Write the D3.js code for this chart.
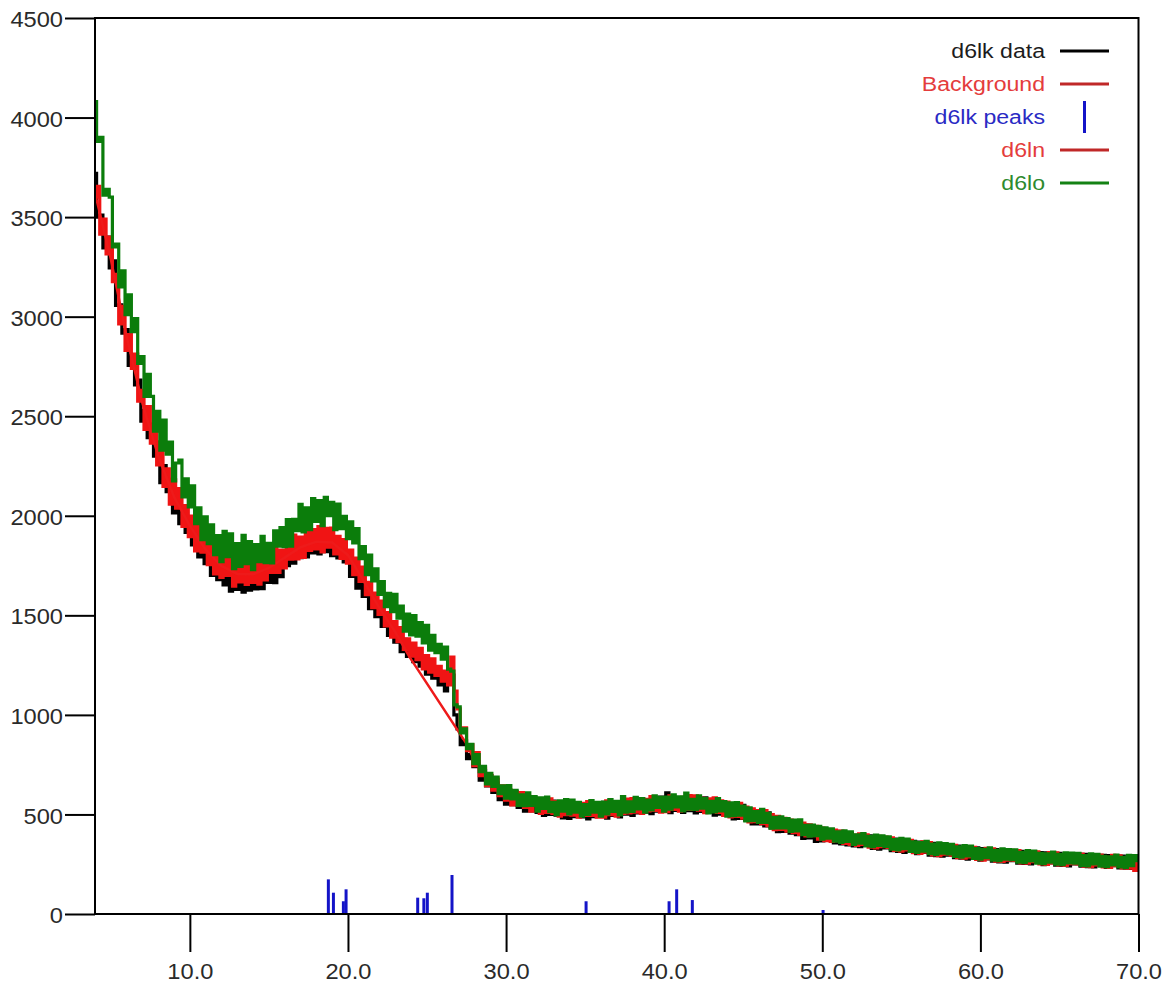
<!DOCTYPE html>
<html>
<head>
<meta charset="utf-8">
<script src="https://cdn.jsdelivr.net/npm/d3@7"></script>
<style>
  html, body { margin: 0; padding: 0; background: #fff; }
  svg { display: block; }
  text { font-family: Arial, "Liberation Sans", sans-serif; }
</style>
</head>
<body>
<svg id="chart" width="1176" height="984"></svg>
<script>
// Scan grid (degrees 2-theta)
const angleStart = 4.0;
const angleStep = 0.2;

// d6lk data (counts), one value per scan step
const d6lkData = [
  3720, 3500, 3510, 3345, 3400, 3245, 3280, 3057, 3059, 2917,
  2935, 2755, 2805, 2657, 2681, 2475, 2529, 2393, 2460, 2300,
  2320, 2166, 2252, 2121, 2183, 2015, 2093, 1961, 2042, 1916,
  1990, 1854, 1928, 1794, 1872, 1760, 1850, 1700, 1803, 1679,
  1775, 1653, 1761, 1622, 1726, 1630, 1728, 1616, 1735, 1626,
  1738, 1633, 1738, 1634, 1760, 1666, 1785, 1664, 1784, 1694,
  1824, 1750, 1836, 1762, 1866, 1790, 1872, 1794, 1896, 1814,
  1892, 1808, 1904, 1820, 1891, 1800, 1886, 1789, 1853, 1768,
  1808, 1695, 1762, 1637, 1711, 1595, 1659, 1533, 1607, 1493,
  1558, 1445, 1502, 1399, 1467, 1365, 1416, 1317, 1379, 1294,
  1348, 1267, 1326, 1245, 1290, 1205, 1270, 1185, 1230, 1150,
  1210, 1120, 1160, 1200, 1000, 930, 850, 870, 780, 800,
  740, 766, 672, 722, 643, 695, 611, 657, 574, 633,
  552, 606, 549, 613, 536, 590, 516, 572, 518, 574,
  510, 567, 495, 552, 500, 567, 496, 544, 483, 551,
  480, 550, 489, 559, 488, 538, 478, 549, 489, 550,
  490, 561, 482, 544, 495, 556, 488, 560, 502, 573,
  495, 567, 508, 580, 511, 573, 504, 575, 516, 587,
  518, 608, 509, 579, 520, 580, 510, 579, 519, 588,
  508, 576, 515, 583, 512, 570, 497, 564, 502, 559,
  496, 552, 478, 544, 480, 546, 471, 527, 452, 518,
  453, 508, 443, 508, 433, 488, 414, 479, 415, 470,
  406, 462, 398, 454, 380, 446, 382, 438, 364, 431,
  367, 425, 372, 420, 357, 415, 352, 400, 347, 405,
  342, 390, 338, 396, 344, 392, 330, 388, 326, 374,
  332, 380, 318, 376, 314, 362, 310, 368, 317, 365,
  303, 361, 310, 358, 296, 355, 293, 341, 290, 348,
  296, 344, 283, 341, 280, 328, 276, 335, 283, 332,
  270, 329, 277, 326, 265, 324, 262, 311, 260, 319,
  268, 317, 256, 315, 254, 303, 252, 311, 260, 309,
  248, 307, 257, 306, 245, 304, 244, 293, 242, 302,
  251, 300, 240, 299, 238, 288, 237, 296, 246, 295,
  234, 293, 243, 292, 232, 291, 230, 280, 229, 289,
  262
];

// d6ln (counts)
const d6ln = [
  3600, 3655, 3415, 3490, 3315, 3400, 3176, 3212, 2964, 3052,
  2830, 2910, 2740, 2812, 2576, 2630, 2434, 2548, 2365, 2455,
  2255, 2371, 2147, 2236, 2058, 2180, 2038, 2136, 1947, 2051,
  1895, 1999, 1823, 1959, 1817, 1925, 1755, 1865, 1708, 1834,
  1690, 1800, 1700, 1792, 1646, 1770, 1668, 1786, 1655, 1755,
  1666, 1781, 1656, 1773, 1678, 1805, 1715, 1835, 1716, 1827,
  1738, 1860, 1782, 1903, 1783, 1893, 1791, 1928, 1826, 1930,
  1834, 1946, 1818, 1937, 1843, 1938, 1808, 1897, 1786, 1880,
  1762, 1828, 1704, 1788, 1670, 1742, 1604, 1666, 1538, 1612,
  1505, 1571, 1447, 1514, 1391, 1468, 1368, 1438, 1329, 1382,
  1295, 1361, 1277, 1334, 1231, 1298, 1215, 1282, 1198, 1244,
  1170, 1220, 1150, 1290, 1120, 1030, 915, 935, 820, 850,
  745, 810, 695, 733, 644, 696, 622, 678, 595, 643,
  572, 625, 548, 612, 546, 610, 536, 591, 517, 582,
  578, 505, 573, 510, 578, 505, 564, 492, 561, 499,
  568, 497, 557, 486, 556, 495, 565, 495, 556, 486,
  556, 487, 568, 499, 560, 491, 563, 505, 577, 508,
  580, 512, 573, 505, 576, 518, 589, 520, 581, 512,
  583, 514, 594, 525, 585, 516, 586, 525, 595, 525,
  594, 522, 581, 509, 578, 516, 583, 510, 568, 495,
  562, 488, 554, 490, 556, 482, 537, 463, 528, 464,
  519, 454, 519, 444, 499, 424, 490, 425, 481, 416,
  472, 408, 454, 400, 456, 392, 448, 394, 440, 376,
  432, 369, 417, 364, 422, 369, 416, 354, 401, 349,
  396, 344, 402, 350, 398, 336, 384, 332, 390, 338,
  386, 334, 382, 320, 368, 316, 374, 322, 370, 308,
  356, 304, 362, 311, 359, 297, 345, 293, 352, 300,
  348, 296, 345, 283, 332, 280, 338, 287, 335, 274,
  322, 271, 330, 278, 327, 266, 315, 264, 322, 271,
  320, 269, 318, 257, 306, 255, 314, 263, 312, 251,
  300, 249, 308, 257, 307, 246, 295, 244, 303, 253,
  302, 251, 301, 240, 289, 238, 298, 247, 296, 236,
  285, 234, 294, 243, 292, 232, 281, 230, 290, 219,
  250
];

// d6lo (counts)
const d6lo = [
  4080, 3880, 3900, 3610, 3640, 3600, 3350, 3365, 3150, 3230,
  3010, 3110, 2925, 2990, 2765, 2800, 2600, 2710, 2600, 2425,
  2525, 2330, 2480, 2310, 2370, 2175, 2265, 2280, 2095, 2185,
  2045, 2150, 1960, 2040, 1880, 1995, 1860, 1955, 1805, 1900,
  1770, 1922, 1795, 1909, 1734, 1860, 1746, 1902, 1760, 1870,
  1730, 1855, 1770, 1897, 1765, 1862, 1763, 1924, 1847, 1941,
  1845, 1981, 1847, 1982, 1925, 2058, 1919, 2040, 1930, 2086,
  1972, 2076, 1950, 2092, 2001, 2068, 1930, 2059, 1935, 1997,
  1885, 1970, 1864, 1935, 1785, 1845, 1704, 1803, 1673, 1734,
  1605, 1670, 1544, 1610, 1518, 1605, 1486, 1547, 1421, 1506,
  1402, 1499, 1396, 1464, 1362, 1450, 1325, 1400, 1313, 1354,
  1280, 1340, 1230, 1220, 1050, 1040, 910, 930, 830, 852,
  755, 800, 715, 742, 654, 706, 641, 687, 604, 643,
  582, 645, 578, 621, 545, 598, 544, 609, 545, 590,
  516, 583, 530, 587, 514, 561, 499, 568, 516, 575,
  503, 572, 512, 561, 491, 550, 500, 570, 511, 561,
  491, 562, 503, 574, 515, 566, 498, 590, 512, 563,
  515, 586, 528, 579, 511, 572, 523, 594, 535, 586,
  517, 587, 527, 598, 538, 588, 518, 607, 527, 576,
  525, 593, 531, 580, 508, 566, 513, 580, 518, 565,
  492, 558, 494, 560, 496, 542, 468, 533, 469, 514,
  460, 525, 460, 506, 431, 486, 432, 488, 433, 479,
  415, 471, 417, 473, 399, 445, 391, 447, 393, 440,
  376, 433, 381, 428, 366, 413, 360, 418, 365, 413,
  350, 398, 356, 404, 342, 390, 338, 396, 344, 392,
  340, 388, 326, 374, 322, 380, 328, 376, 314, 362,
  310, 358, 316, 365, 303, 351, 299, 357, 306, 354,
  302, 350, 289, 337, 286, 344, 292, 341, 279, 328,
  276, 325, 283, 332, 271, 320, 268, 327, 276, 324,
  273, 322, 261, 310, 259, 318, 267, 316, 255, 304,
  253, 302, 261, 311, 250, 299, 248, 307, 257, 306,
  255, 304, 244, 293, 242, 302, 251, 300, 240, 289,
  238, 287, 247, 296, 236, 285, 234, 294, 243, 293,
  268
];

// Fitted background (anchor points)
const backgroundAngles = [4, 5, 6, 7, 8, 9, 10, 11, 12, 13, 14, 15, 16, 17, 18, 19, 20, 21, 22, 23, 23.9,
  27.5, 28, 29, 30, 32, 34, 36, 38, 40, 42, 44, 46, 48, 50, 55, 60, 65, 70];
const backgroundCounts = [3620, 3290, 2900, 2565, 2300, 2095, 1950, 1830, 1748, 1708, 1706, 1738, 1790, 1842, 1870, 1866, 1802, 1672, 1535, 1415, 1290,
  855, 772, 668, 598, 545, 525, 525, 537, 548, 549, 528, 487, 440, 400, 346, 301, 278, 260];

// d6lk peak list
const peakAngles = [18.76, 19.08, 19.71, 19.88, 24.41, 24.8, 25.02, 26.58, 35.06, 40.31, 40.79, 41.78, 50.05];
const peakCounts = [174, 107, 64, 124, 82, 79, 107, 196, 64, 64, 124, 70, 20];

// Axis ticks
const xTicks = [10, 20, 30, 40, 50, 60, 70];
const yTicks = [0, 500, 1000, 1500, 2000, 2500, 3000, 3500, 4000, 4500];

// Legend entries
const legendLabels = ["d6lk data", "Background", "d6lk peaks", "d6ln", "d6lo"];

const colors = {
  data: "#000000",
  background: "#ee1a1a",
  peaks: "#1414c8",
  d6ln: "#f01414",
  d6lo: "#0b7d0b"
};
const legendTextColors = ["#1c1c1c", "#e43c3c", "#2a2ac4", "#e43c3c", "#2e8a2e"];
const legendLineColors = ["#000000", "#c02828", "#1414c8", "#c02828", "#148214"];

const svg = d3.select("#chart");
const plotLeft = 95, plotRight = 1138.5, plotTop = 18, plotBottom = 914;
const textScale = 1.1;
const scanWidth = 3.2;

const x = d3.scaleLinear().domain([4, 70]).range([plotLeft, plotRight]);
const y = d3.scaleLinear().domain([0, 4500]).range([plotBottom, plotTop]);

const angles = d3.range(d6lo.length).map(i => angleStart + i * angleStep);

svg.append("defs").append("clipPath").attr("id", "plot-clip")
  .append("rect")
  .attr("x", plotLeft).attr("y", plotTop)
  .attr("width", plotRight - plotLeft).attr("height", plotBottom - plotTop);

const plot = svg.append("g").attr("clip-path", "url(#plot-clip)");

const scanLine = d3.line()
  .x((d, i) => x(angles[i]))
  .y(d => y(d))
  .curve(d3.curveStep);

// Scans: data first, then d6ln, background, d6lo on top
plot.append("path").datum(d6lkData)
  .attr("d", scanLine).attr("fill", "none")
  .attr("stroke", colors.data).attr("stroke-width", scanWidth);

plot.append("path").datum(d6ln)
  .attr("d", scanLine).attr("fill", "none")
  .attr("stroke", colors.d6ln).attr("stroke-width", scanWidth);

const bgLine = d3.line()
  .x((d, i) => x(backgroundAngles[i]))
  .y(d => y(d));
plot.append("path").datum(backgroundCounts)
  .attr("d", bgLine).attr("fill", "none")
  .attr("stroke", colors.background).attr("stroke-width", 2.5);

plot.append("path").datum(d6lo)
  .attr("d", scanLine).attr("fill", "none")
  .attr("stroke", colors.d6lo).attr("stroke-width", scanWidth);

// Peak sticks
plot.append("g").selectAll("line")
  .data(peakAngles)
  .join("line")
  .attr("x1", d => x(d)).attr("x2", d => x(d))
  .attr("y1", y(0))
  .attr("y2", (d, i) => y(peakCounts[i]))
  .attr("stroke", colors.peaks).attr("stroke-width", 3);

// Y axis
const yAxisG = svg.append("g")
  .attr("transform", `translate(${plotLeft},0)`)
  .call(d3.axisLeft(y).tickValues(yTicks).tickSize(30).tickFormat(d3.format("d")));
yAxisG.select(".domain").remove();
yAxisG.selectAll(".tick line").attr("stroke", "#000").attr("stroke-width", 2);
yAxisG.selectAll(".tick text")
  .attr("fill", "#2a2a2a")
  .attr("font-size", 21.5)
  .attr("font-family", "Arial, 'Liberation Sans', sans-serif")
  .attr("text-anchor", "end")
  .attr("x", -32 / textScale)
  .attr("dy", "0.4em")
  .attr("transform", `scale(${textScale},1)`);

// X axis
const xAxisG = svg.append("g")
  .attr("transform", `translate(0,${plotBottom})`)
  .call(d3.axisBottom(x).tickValues(xTicks).tickSize(38).tickFormat(d3.format(".1f")));
xAxisG.select(".domain").remove();
xAxisG.selectAll(".tick line").attr("stroke", "#000").attr("stroke-width", 2);
xAxisG.selectAll(".tick text")
  .attr("fill", "#2a2a2a")
  .attr("font-size", 21.5)
  .attr("font-family", "Arial, 'Liberation Sans', sans-serif")
  .attr("y", 65)
  .attr("dy", 0)
  .attr("transform", `scale(${textScale},1)`);

// Frame
svg.append("rect")
  .attr("x", plotLeft).attr("y", plotTop)
  .attr("width", plotRight - plotLeft).attr("height", plotBottom - plotTop)
  .attr("fill", "none").attr("stroke", "#000").attr("stroke-width", 2);

// Legend
const legend = svg.append("g");
const legendTop = 51, legendPitch = 33, legendTextRight = 1045;
const lineX1 = 1060, lineX2 = 1109;
legendLabels.forEach((label, i) => {
  const cy = legendTop + i * legendPitch;
  legend.append("text")
    .attr("transform", `translate(${legendTextRight},${cy + 7}) scale(${textScale},1)`)
    .attr("text-anchor", "end")
    .attr("font-size", 21)
    .attr("fill", legendTextColors[i])
    .text(label);
  if (i === 2) {
    legend.append("line")
      .attr("x1", (lineX1 + lineX2) / 2).attr("x2", (lineX1 + lineX2) / 2)
      .attr("y1", cy - 16).attr("y2", cy + 16)
      .attr("stroke", legendLineColors[i]).attr("stroke-width", 3);
  } else {
    legend.append("line")
      .attr("x1", lineX1).attr("x2", lineX2)
      .attr("y1", cy).attr("y2", cy)
      .attr("stroke", legendLineColors[i]).attr("stroke-width", 3);
  }
});
</script>
</body>
</html>
